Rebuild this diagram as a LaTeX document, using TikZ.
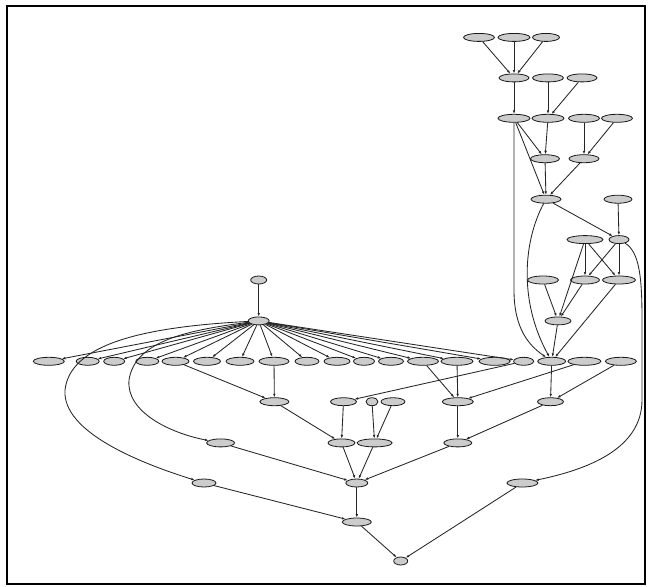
\documentclass[tikz,border=0pt]{standalone}
\usetikzlibrary{shapes.geometric,arrows.meta}

\tikzset{
  gnode/.style={ellipse, draw=black!90, fill=gray!40, line width=0.8pt,
                minimum height=8pt, inner sep=0pt},
  link/.style={draw=black!85, line width=0.85pt, -{Latex[length=3.5pt,width=2.6pt]}}
}
% name, x, y, width
\newcommand{\placenode}[4]{\node[gnode, minimum width=#4pt] (#1) at (#2,#3) {};}

\begin{document}
\begin{tikzpicture}[x=1pt,y=-1pt]
\useasboundingbox (0,0) rectangle (649,587);
\fill[white] (0,0) rectangle (649,587);
\draw[line width=2.8pt] (7,6) rectangle (645,584);

% upper right cluster
\placenode{r1a}{479}{37.4}{31}
\placenode{r1b}{514}{37.4}{32}
\placenode{r1c}{546}{37.4}{27}
\placenode{r2a}{514}{77.9}{30}
\placenode{r2b}{548}{77.9}{31}
\placenode{r2c}{582}{77.9}{30}
\placenode{r3a}{514}{118.3}{32}
\placenode{r3b}{548}{118.3}{32}
\placenode{r3c}{584}{118.3}{31}
\placenode{r3d}{617}{118.3}{31}
\placenode{r4a}{545}{158.7}{29}
\placenode{r4b}{584}{158.7}{30}
\placenode{r5a}{546}{199.2}{30}
\placenode{r5b}{618}{199.2}{28}
\placenode{r6a}{585}{239.6}{36}
\placenode{r6b}{619}{239.6}{20}
\placenode{r7a}{543}{280}{31}
\placenode{r7b}{585}{280}{29}
\placenode{r7c}{619}{280}{33}
\placenode{r8}{558}{320.9}{26}

% root and hub
\placenode{root}{258.7}{280}{16}
\placenode{hub}{258.7}{320.9}{21}

% wide row
\placenode{r9a}{48.8}{361.3}{31}
\placenode{r9b}{87.7}{361.3}{23}
\placenode{r9c}{114.2}{361.3}{21}
\placenode{r9d}{147.3}{361.3}{23}
\placenode{r9e}{175.5}{361.3}{27}
\placenode{r9f}{207}{361.3}{27}
\placenode{r9g}{240}{361.3}{28}
\placenode{r9h}{274}{361.3}{30}
\placenode{r9i}{307}{361.3}{24}
\placenode{r9j}{337}{361.3}{26}
\placenode{r9k}{364}{361.3}{21}
\placenode{r9l}{391}{361.3}{25}
\placenode{r9m}{423}{361.3}{31}
\placenode{r9n}{457}{361.3}{32}
\placenode{r9o}{494.6}{361.3}{31}
\placenode{r9p}{523.6}{361.3}{20}
\placenode{r9q}{551.7}{361.3}{28}
\placenode{r9r}{584.4}{361.3}{33}
\placenode{r9s}{620.9}{361.3}{31}

% lower rows
\placenode{r10a}{274.4}{401.7}{29}
\placenode{r10b}{343.5}{401.7}{26}
\placenode{r10c}{372}{401.7}{12}
\placenode{r10d}{393}{401.7}{24}
\placenode{r10e}{457.8}{401.7}{31}
\placenode{r10f}{550.5}{401.7}{26}
\placenode{r11a}{220.6}{442.9}{28}
\placenode{r11b}{341.5}{442.9}{27}
\placenode{r11c}{374.6}{442.9}{35}
\placenode{r11d}{457.8}{442.9}{28}
\placenode{r12a}{204}{483}{24}
\placenode{r12b}{356.8}{483}{22}
\placenode{r12c}{522.4}{483}{31}
\placenode{r13}{356.8}{522}{29}
\placenode{r14}{400.7}{561}{14}

% edges of the upper right cluster
\foreach \s/\t in {r1a/r2a, r1b/r2a, r1c/r2a, r2a/r3a, r2b/r3b, r2c/r3b,
  r3a/r4a, r3a/r5a, r3b/r4a, r3c/r4b, r3d/r4b, r4a/r5a, r4b/r5a,
  r5a/r6b, r5b/r6b, r6a/r7b, r6a/r7c, r6a/r8, r6b/r7b, r6b/r7c,
  r7a/r8, r7b/r8, r7c/r9q, r8/r9q}
  \draw[link] (\s) -- (\t);
\draw[link] (r3a) -- (514,290) .. controls (514,330) and (530,346) .. (r9q);
\draw[link] (r5a) .. controls (524,240) and (518,300) .. (r9q);
\draw[link] (r6b) .. controls (640,252) and (642,280) .. (642,320)
  -- (642,400) .. controls (642,450) and (585,470) .. (r12c);

% fan out of the hub
\draw[link] (root) -- (hub);
\foreach \t in {r9a,r9b,r9c,r9d,r9e,r9f,r9g,r9h,r9i,r9j,r9k,r9l,r9m,r9n,r9o,r9p}
  \draw[link] (hub) -- (\t);
\draw[link] (hub) .. controls (140,327) and (70,345) .. (65,390)
  .. controls (62,432) and (140,463) .. (r12a);
\draw[link] (hub) .. controls (190,330) and (135,340) .. (129,380)
  .. controls (126,412) and (170,433) .. (r11a);

% lower part
\foreach \s/\t in {r9e/r10a, r9h/r10a, r9m/r10e, r9n/r10e, r9p/r10b, r9q/r10f,
  r9r/r10e, r9s/r10f, r10a/r11b, r10b/r11b, r10c/r11c, r10d/r11c, r10e/r11d,
  r10f/r11d, r11a/r12b, r11b/r12b, r11c/r12b, r11d/r12b, r12a/r13, r12b/r13,
  r13/r14, r12c/r14}
  \draw[link] (\s) -- (\t);
\end{tikzpicture}
\end{document}
